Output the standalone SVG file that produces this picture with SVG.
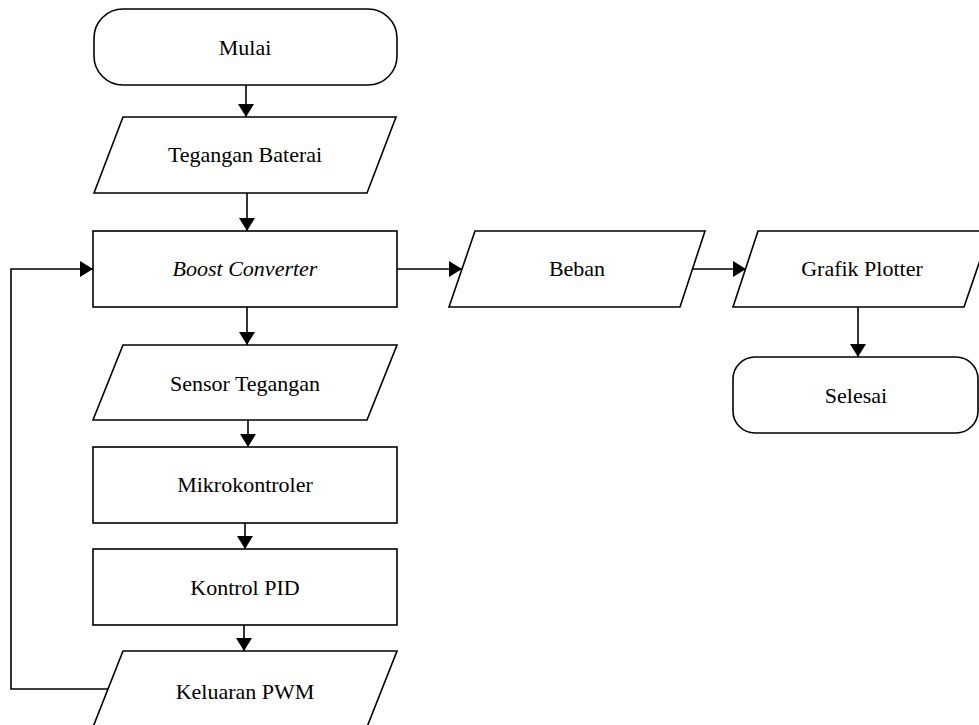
<svg xmlns="http://www.w3.org/2000/svg" width="979" height="725" viewBox="0 0 979 725">
<style>
.s{fill:#fff;stroke:#000;stroke-width:1.6}
.t{font-family:"Liberation Serif","Times New Roman",serif;font-size:22px;fill:#000;text-anchor:middle}
.c{fill:none;stroke:#000;stroke-width:1.6}
</style>
<defs>
<marker id="ah" viewBox="0 0 13 16" refX="13" refY="8" markerWidth="13" markerHeight="16" markerUnits="userSpaceOnUse" orient="auto">
<path d="M0,0 L13,8 L0,16 z" fill="#000"/>
</marker>
</defs>
<rect width="979" height="725" fill="#fff"/>
<g id="mulai"><rect class="s" x="94" y="9" width="303" height="76" rx="29" ry="29"/><text class="t" x="245" y="55">Mulai</text></g>
<g id="tegangan-baterai"><polygon class="s" points="123,117 396,117 367,193 94,193"/><text class="t" x="245" y="162">Tegangan Baterai</text></g>
<g id="boost-converter"><rect class="s" x="93" y="231" width="304" height="76"/><text class="t" x="245" y="276" font-style="italic">Boost Converter</text></g>
<g id="sensor-tegangan"><polygon class="s" points="123,345 397,345 367,420 93,420"/><text class="t" x="245" y="391">Sensor Tegangan</text></g>
<g id="mikrokontroler"><rect class="s" x="93" y="447" width="304" height="76"/><text class="t" x="245" y="492">Mikrokontroler</text></g>
<g id="kontrol-pid"><rect class="s" x="93" y="549" width="304" height="76"/><text class="t" x="245" y="595">Kontrol PID</text></g>
<g id="keluaran-pwm"><polygon class="s" points="123,651 397,651 367,727 93,727"/><text class="t" x="245" y="699">Keluaran PWM</text></g>
<g id="beban"><polygon class="s" points="475,231 705,231 680,307 449,307"/><text class="t" x="577" y="276">Beban</text></g>
<g id="grafik-plotter"><polygon class="s" points="758,231 990,231 964,307 733,307"/><text class="t" x="862" y="276">Grafik Plotter</text></g>
<g id="selesai"><rect class="s" x="733" y="357" width="245" height="76" rx="22" ry="22"/><text class="t" x="856" y="403">Selesai</text></g>
<g id="connectors">
<line class="c" x1="246" y1="85" x2="246" y2="117" marker-end="url(#ah)"/>
<line class="c" x1="247" y1="193" x2="247" y2="231" marker-end="url(#ah)"/>
<line class="c" x1="247" y1="307" x2="247" y2="345" marker-end="url(#ah)"/>
<line class="c" x1="248" y1="420" x2="248" y2="447" marker-end="url(#ah)"/>
<line class="c" x1="245" y1="523" x2="245" y2="549" marker-end="url(#ah)"/>
<line class="c" x1="244" y1="625" x2="244" y2="651" marker-end="url(#ah)"/>
<polyline class="c" points="108,689 11,689 11,269 93,269" marker-end="url(#ah)"/>
<line class="c" x1="397" y1="269" x2="462" y2="269" marker-end="url(#ah)"/>
<line class="c" x1="693" y1="269" x2="746" y2="269" marker-end="url(#ah)"/>
<line class="c" x1="858" y1="307" x2="858" y2="357" marker-end="url(#ah)"/>
</g>
</svg>
